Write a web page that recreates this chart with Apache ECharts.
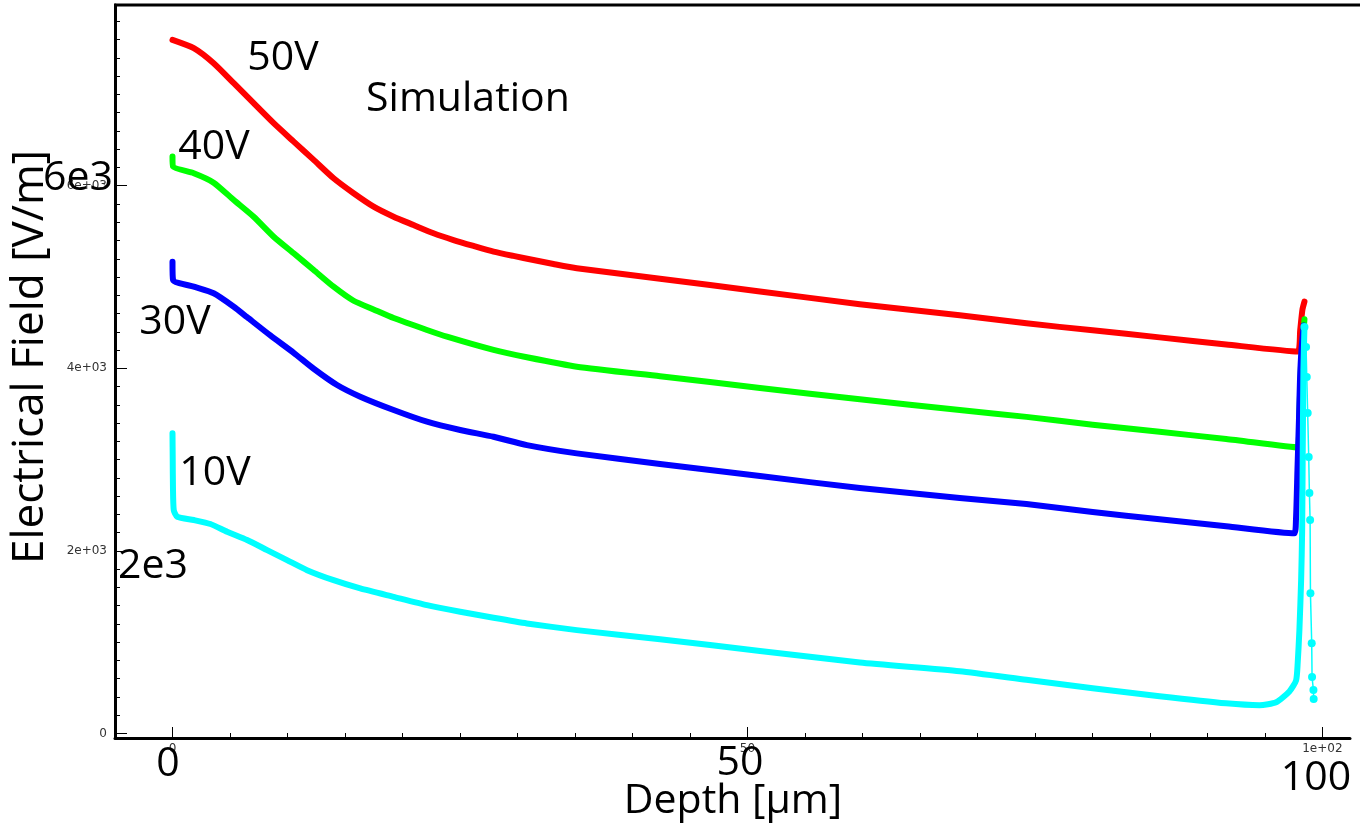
<!DOCTYPE html>
<html>
<head>
<meta charset="utf-8">
<script src="https://cdn.jsdelivr.net/npm/echarts@6/dist/echarts.min.js"></script>
<style>
  html, body { margin: 0; padding: 0; background: #fff; }
  #chart { width: 1360px; height: 825px; }
</style>
</head>
<body>
<div id="chart"></div>
<script>
// Electric field profile vs depth, simulated for several bias voltages

// 50 V bias
const depth50 = [0, 1.85, 3.58, 5.33, 7.06, 8.80, 10.54, 12.28, 14.01, 15.75, 17.49, 19.23, 20.96, 22.70, 24.44, 26.18, 27.92, 29.65, 31.39, 33.13, 35.16, 42.40, 51.09, 59.77, 68.46, 74.26, 80.02, 85.84, 91.63, 97.85, 98.07, 98.26, 98.44];
const field50 = [7598, 7507, 7342, 7123, 6904, 6685, 6483, 6283, 6082, 5918, 5771, 5661, 5570, 5479, 5405, 5340, 5278, 5231, 5187, 5143, 5096, 4981, 4842, 4702, 4582, 4493, 4416, 4339, 4261, 4183, 4420, 4640, 4730];

// 40 V bias
const depth40 = [0, 0.05, 1.85, 3.58, 5.33, 7.06, 8.80, 10.54, 12.28, 14.01, 15.75, 17.49, 19.23, 22.13, 23.87, 27.92, 30.82, 35.16, 42.40, 51.09, 59.77, 68.46, 74.26, 80.02, 85.84, 91.63, 97.85, 98.0, 98.15, 98.44];
const field40 = [6319, 6209, 6137, 6034, 5844, 5661, 5442, 5260, 5077, 4894, 4740, 4645, 4551, 4420, 4346, 4201, 4121, 4018, 3913, 3785, 3660, 3543, 3468, 3382, 3304, 3226, 3133, 3507, 4055, 4537];

// 30 V bias
const depth30 = [0, 0.05, 1.85, 3.58, 5.33, 6.49, 8.51, 10.54, 12.28, 14.31, 16.33, 19.23, 22.13, 25.02, 27.92, 30.82, 35.16, 42.40, 51.09, 59.77, 68.46, 74.26, 80.02, 85.84, 91.63, 97.55, 97.70, 97.83, 97.96, 98.05, 98.18, 98.37];
const field30 = [5168, 4968, 4894, 4822, 4675, 4560, 4360, 4170, 3995, 3817, 3689, 3543, 3415, 3324, 3250, 3159, 3068, 2951, 2820, 2688, 2580, 2513, 2425, 2347, 2270, 2192, 2337, 2885, 3433, 3871, 4200, 4468];

// 10 V bias (rising edge up to the back-side peak)
const depth10 = [0, 0.02, 0.04, 0.11, 0.41, 1.85, 3.30, 4.75, 6.49, 8.23, 9.96, 11.70, 14.01, 16.33, 19.23, 22.13, 25.02, 27.92, 30.82, 35.16, 42.40, 51.09, 59.77, 68.46, 74.26, 80.02, 85.84, 91.63, 94.53, 95.98, 97.13, 97.71, 97.85, 98.0, 98.15, 98.24, 98.29, 98.35, 98.44];
const field10 = [3288, 2995, 2702, 2447, 2374, 2338, 2294, 2209, 2118, 2008, 1899, 1789, 1679, 1589, 1497, 1406, 1333, 1267, 1205, 1132, 1031, 904, 777, 682, 588, 496, 408, 330, 310, 341, 460, 580, 767, 1132, 1680, 2228, 3105, 3982, 4453];
// 10 V bias, falling edge after the peak (sparse samples)
const depth10Tail = [98.44, 98.58, 98.64, 98.72, 98.81, 98.87, 98.93, 98.96, 99.07, 99.10, 99.22, 99.24];
const field10Tail = [4453, 4233, 3905, 3510, 3028, 2633, 2337, 1537, 989, 617, 475, 376];

// Axis ticks and labels
const xMinorTicks = [0, 5, 10, 15, 20, 25, 30, 35, 40, 45, 50, 55, 60, 65, 70, 75, 80, 85, 90, 95, 100];
const xMajorTicks = [0, 50, 100];
const xTickLabels = ['0', '50', '1e+02'];
const yMinorTicks = [];
for (let v = 0; v <= 7800; v += 200) yMinorTicks.push(v);
const yMajorTicks = [0, 2000, 4000, 6000];
const yTickLabels = ['0', '2e+03', '4e+03', '6e+03'];

// Annotations drawn over the plot
const bigXLabels = ['0', '50', '100'];
const bigYLabels = ['6e3', '2e3'];
const curveLabels = ['50V', '40V', '30V', '10V'];

const zip = (xs, ys) => xs.map((x, i) => [x, ys[i]]);

const chart = echarts.init(document.getElementById('chart'), null, { renderer: 'canvas' });

const X_MIN = -5, X_MAX = 102.4, Y_MIN = -50, Y_MAX = 7980;
const smallFont = { color: '#333', fontFamily: 'DejaVu Sans', fontSize: 12 };

function thick(name, color, data) {
  return {
    name, type: 'line', data, showSymbol: false, symbol: 'none',
    smooth: 0.2,
    lineStyle: { color, width: 6, cap: 'round', join: 'round' },
    itemStyle: { color }, z: 3, animation: false
  };
}

function txt(text, x, y, size, rot) {
  return {
    type: 'text', x, y, rotation: rot || 0, z: 10,
    style: { text, font: size + 'px "Open Sans"', fill: '#000', textAlign: 'center', textVerticalAlign: 'middle' }
  };
}

chart.setOption({
  animation: false,
  backgroundColor: '#fff',
  grid: { left: 115, right: 10, top: 5, bottom: 87, containLabel: false },
  xAxis: [
    {
      type: 'value', min: X_MIN, max: X_MAX, position: 'bottom',
      axisLine: { show: true, onZero: false, lineStyle: { color: '#000', width: 3 } },
      axisTick: { show: true, inside: true, length: 5, customValues: xMinorTicks, lineStyle: { color: '#000', width: 1 } },
      axisLabel: { show: false },
      splitLine: { show: false }
    },
    {
      type: 'value', min: X_MIN, max: X_MAX, position: 'bottom', offset: 0,
      axisLine: { show: false, onZero: false },
      axisTick: { show: true, inside: true, length: 11, customValues: xMajorTicks, lineStyle: { color: '#000', width: 1 } },
      axisLabel: {
        show: true, margin: 5, customValues: xMajorTicks, ...smallFont,
        formatter: v => xTickLabels[xMajorTicks.indexOf(v)] ?? ''
      },
      splitLine: { show: false }
    }
  ],
  yAxis: [
    {
      type: 'value', min: Y_MIN, max: Y_MAX, position: 'left',
      axisLine: { show: true, onZero: false, lineStyle: { color: '#000', width: 3 } },
      axisTick: { show: true, inside: true, length: 5, customValues: yMinorTicks, lineStyle: { color: '#000', width: 1 } },
      axisLabel: { show: false },
      splitLine: { show: false }
    },
    {
      type: 'value', min: Y_MIN, max: Y_MAX, position: 'left', offset: 0,
      axisLine: { show: false, onZero: false },
      axisTick: { show: true, inside: true, length: 12, customValues: yMajorTicks, lineStyle: { color: '#000', width: 1 } },
      axisLabel: {
        show: true, margin: 8, customValues: yMajorTicks, ...smallFont,
        formatter: v => yTickLabels[yMajorTicks.indexOf(v)] ?? ''
      },
      splitLine: { show: false }
    }
  ],
  series: [
    thick('50V', '#ff0000', zip(depth50, field50)),
    thick('40V', '#00ff00', zip(depth40, field40)),
    thick('30V', '#0000ff', zip(depth30, field30)),
    thick('10V', '#00ffff', zip(depth10, field10)),
    {
      name: '10V', type: 'line', data: zip(depth10Tail, field10Tail),
      symbol: 'circle', symbolSize: 8, showSymbol: true,
      lineStyle: { color: '#00ffff', width: 1.5 },
      itemStyle: { color: '#00ffff' }, z: 4, animation: false
    }
  ],
  graphic: [
    { type: 'line', z: 10, shape: { x1: 114, y1: 5, x2: 1360, y2: 5 }, style: { stroke: '#000', lineWidth: 3 } },
    txt(bigXLabels[0], 168, 764, 41),
    txt(bigXLabels[1], 740, 763, 41),
    txt(bigXLabels[2], 1316, 778, 41),
    txt(bigYLabels[0], 78, 178, 41),
    txt(bigYLabels[1], 153, 566, 41),
    txt(curveLabels[0], 283, 58, 41),
    txt(curveLabels[1], 214, 147, 41),
    txt(curveLabels[2], 175, 322, 41),
    txt(curveLabels[3], 215, 473, 41),
    txt('Simulation', 468, 99, 41),
    txt('Depth [μm]', 733, 801, 41),
    txt('Electrical Field [V/m]', 30, 357, 44, Math.PI / 2)
  ]
});
</script>
</body>
</html>
